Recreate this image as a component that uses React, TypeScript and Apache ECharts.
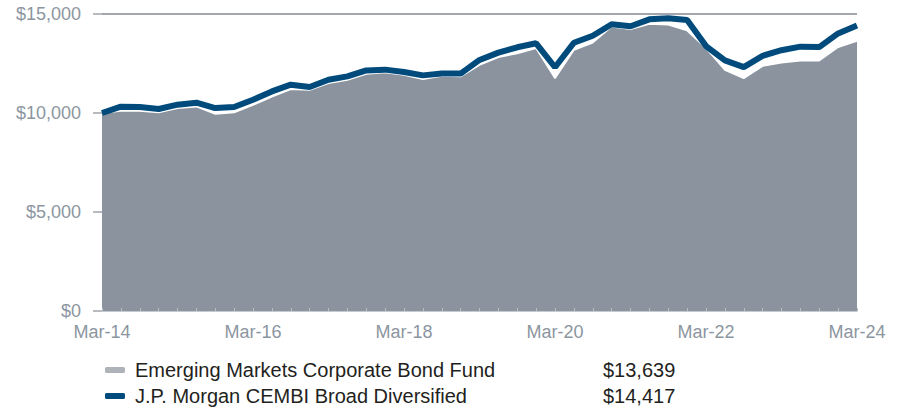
import React, { useEffect, useRef } from "react";
import * as echarts from "echarts";

const quarters: string[] = (() => {
  const m = ["Mar", "Jun", "Sep", "Dec"];
  const out: string[] = [];
  for (let y = 14; y <= 24; y++) {
    for (const mm of m) {
      if (y === 24 && mm !== "Mar") continue;
      out.push(`${mm}-${y}`);
    }
  }
  return out;
})();

const fundName = "Emerging Markets Corporate Bond Fund";
const indexName = "J.P. Morgan CEMBI Broad Diversified";

const fundValues = [
  10000, 10100, 10100, 10020, 10240, 10320, 9950, 10020, 10400, 10820, 11200,
  11160, 11500, 11670, 11970, 12040, 11920, 11700, 11870, 11840, 12420, 12810,
  13010, 13270, 11750, 13180, 13550, 14360, 14230, 14490, 14460, 14160, 13270,
  12170, 11750, 12370, 12540, 12640, 12640, 13320, 13639,
];

const indexValues = [
  10000, 10320, 10300, 10200, 10420, 10520, 10250, 10300, 10670, 11090, 11430,
  11310, 11680, 11850, 12150, 12190, 12070, 11900, 11990, 11990, 12680, 13050,
  13320, 13520, 12310, 13550, 13900, 14480, 14380, 14730, 14780, 14700, 13380,
  12660, 12320, 12890, 13170, 13350, 13330, 14020, 14417,
];

const endingValues: Record<string, string> = {
  [fundName]: "$13,639",
  [indexName]: "$14,417",
};

const yTicks = [0, 5000, 10000, 15000];

export default function App() {
  const ref = useRef<HTMLDivElement>(null);
  useEffect(() => {
    if (!ref.current) return;
    const chart = echarts.init(ref.current, undefined, { renderer: "svg" });
    const font = "'Liberation Sans', Arial, Helvetica, sans-serif";
    chart.setOption({
      animation: false,
      textStyle: { fontFamily: font },
      grid: { left: 102, right: 41, top: 14, bottom: 97, containLabel: false },
      legend: {
        orient: "vertical",
        left: 105,
        top: 360,
        padding: 0,
        itemWidth: 20,
        itemHeight: 6,
        itemGap: 6,
        icon: "roundRect",
        selectedMode: false,
        data: [
          { name: fundName, itemStyle: { color: "#aeb3ba" } },
          { name: indexName, itemStyle: { color: "#004b7c" } },
        ],
        formatter: (name: string) => `{n|${name}}{v|${endingValues[name]}}`,
        textStyle: {
          fontFamily: font,
          rich: {
            n: { fontSize: 20, color: "#231f20", width: 468, padding: [0, 0, 0, 5], lineHeight: 20, fontFamily: font },
            v: { fontSize: 20, color: "#231f20", lineHeight: 20, fontFamily: font },
          },
        },
      },
      xAxis: {
        type: "category",
        data: quarters,
        boundaryGap: false,
        axisLine: { show: true, lineStyle: { color: "#c5cad0", width: 1 } },
        axisTick: { show: true, inside: true, length: 3, interval: 0, lineStyle: { color: "#b8bec6" } },
        axisLabel: { interval: 7, color: "#8c96a1", fontSize: 18, margin: 12, fontFamily: font },
        splitLine: { show: false },
        z: 5,
      },
      yAxis: {
        type: "value",
        min: 0,
        max: 15000,
        interval: 5000,
        axisLine: { show: false },
        axisTick: { show: true, length: 9, lineStyle: { color: "#9fa3aa", width: 1.5 } },
        axisLabel: {
          color: "#8c96a1",
          fontSize: 18,
          margin: 21,
          fontFamily: font,
          formatter: (v: number) => "$" + v.toLocaleString("en-US"),
        },
        splitLine: {
          show: true,
          lineStyle: { color: yTicks.map((t) => (t === 15000 ? "#a3a6ad" : "rgba(0,0,0,0)")), width: 2 },
        },
      },
      series: [
        {
          name: fundName,
          type: "line",
          data: fundValues,
          symbol: "none",
          lineStyle: { color: "#ffffff", width: 1.5 },
          itemStyle: { color: "#aeb3ba" },
          areaStyle: { color: "#8a939e", opacity: 1 },
          z: 2,
        },
        {
          name: indexName,
          type: "line",
          data: indexValues,
          symbol: "none",
          lineStyle: { color: "#004b7c", width: 6 },
          itemStyle: { color: "#004b7c" },
          z: 3,
        },
      ],
    });
    return () => chart.dispose();
  }, []);
  return (
    <div
      ref={ref}
      style={{ position: "absolute", left: 0, top: 0, width: 898, height: 408 }}
    />
  );
}
